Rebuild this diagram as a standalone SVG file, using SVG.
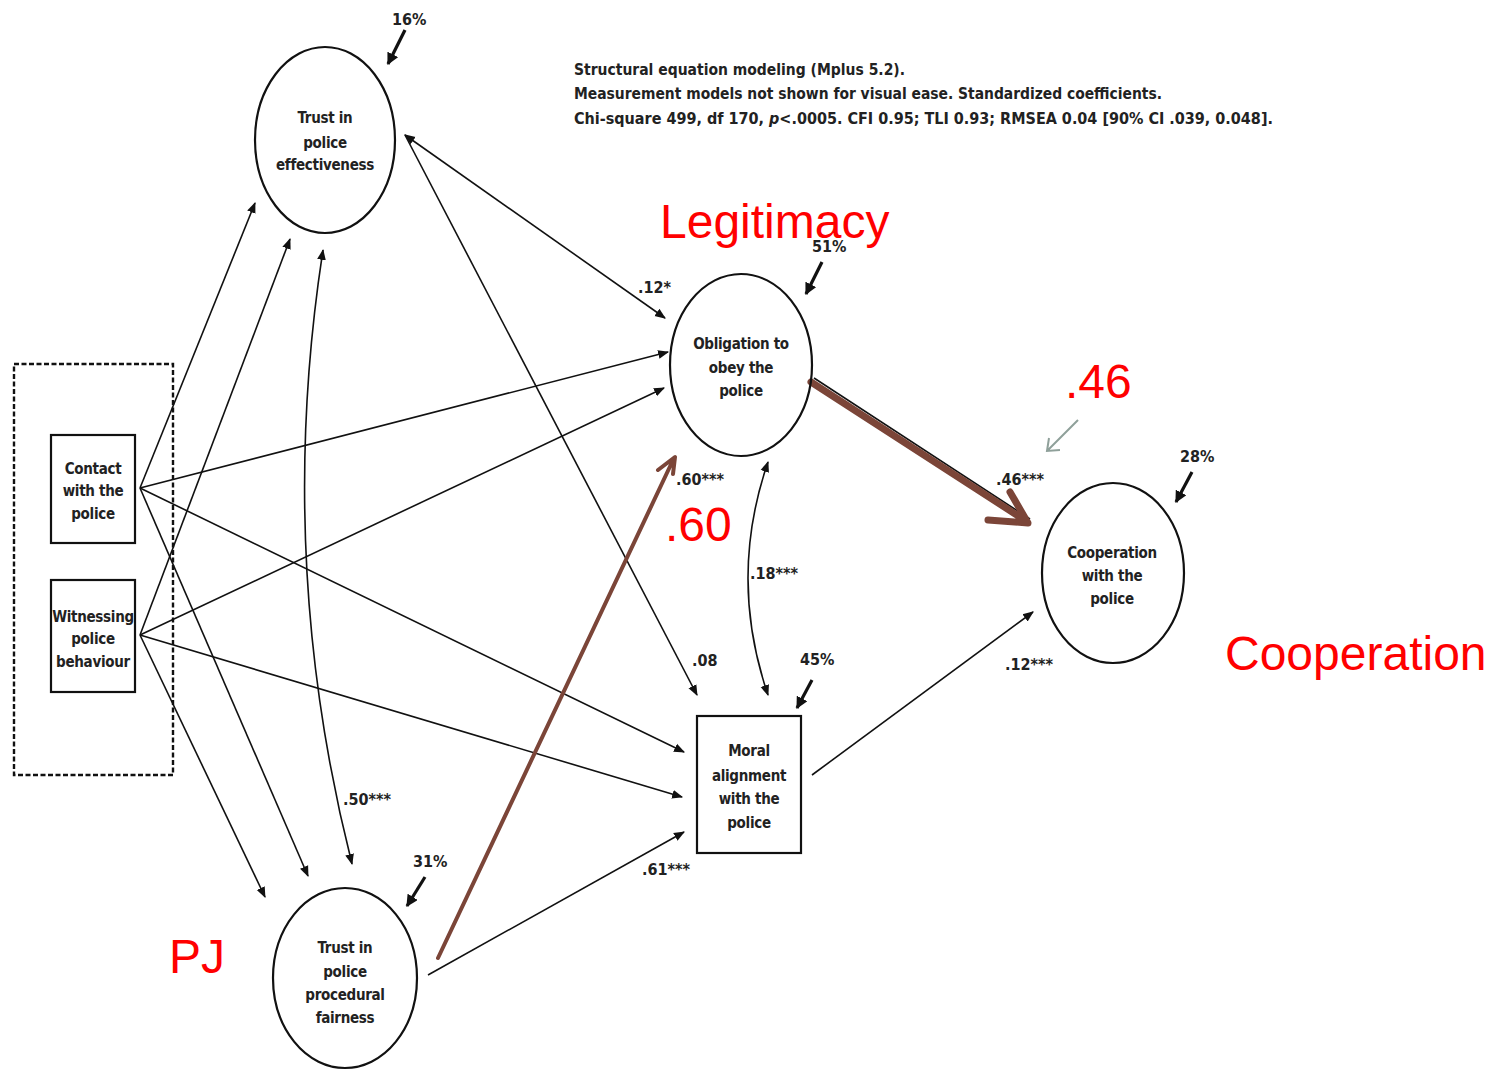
<svg xmlns="http://www.w3.org/2000/svg" width="1497" height="1070" viewBox="0 0 1497 1070">
<style>
.nd{fill:none;stroke:#111;stroke-width:2.2}
.lbl{font-family:'DejaVu Sans Condensed','DejaVu Sans',sans-serif;font-size:15px;font-weight:bold;fill:#222;text-anchor:middle;letter-spacing:-0.3px}
.coef{font-family:'DejaVu Sans Condensed','DejaVu Sans',sans-serif;font-size:16px;font-weight:bold;fill:#222}
.note{font-family:'DejaVu Sans Condensed','DejaVu Sans',sans-serif;font-size:16px;font-weight:bold;fill:#222}
.red{font-family:'Liberation Sans',Arial,sans-serif;font-size:48px;fill:#ff0000}
.ln{fill:none;stroke:#111;stroke-width:1.6}
.res{fill:none;stroke:#111;stroke-width:3.2}
.brown{fill:none;stroke:#7b4538;stroke-linecap:round;stroke-linejoin:round}
</style>
<defs>
<marker id="ah" viewBox="0 0 10 10" refX="9" refY="5" markerWidth="11" markerHeight="11" markerUnits="userSpaceOnUse" orient="auto-start-reverse">
<path d="M0,1 L10,5 L0,9 z" fill="#111"/>
</marker>
<marker id="rh" viewBox="0 0 10 10" refX="9" refY="5" markerWidth="12" markerHeight="12" markerUnits="userSpaceOnUse" orient="auto">
<path d="M0,0 L10,5 L0,10 z" fill="#111"/>
</marker>
</defs>
<rect width="1497" height="1070" fill="#ffffff"/>

<g id="note">
<text class="note" x="574" y="75" textLength="331" lengthAdjust="spacingAndGlyphs">Structural equation modeling (Mplus 5.2).</text>
<text class="note" x="574" y="99" textLength="588" lengthAdjust="spacingAndGlyphs">Measurement models not shown for visual ease. Standardized coefficients.</text>
<text class="note" x="574" y="124" font-size="15.4">Chi-square 499, df 170, <tspan font-style="italic">p</tspan>&lt;.0005. CFI 0.95; TLI 0.93; RMSEA 0.04 [90% CI .039, 0.048].</text>
</g>

<g id="connectors">
<path class="ln" d="M140,488 L255,203" marker-end="url(#ah)"/>
<path class="ln" d="M140,635 L290,239" marker-end="url(#ah)"/>
<path class="ln" d="M140,488 L668,352" marker-end="url(#ah)"/>
<path class="ln" d="M140,635 L664,388" marker-end="url(#ah)"/>
<path class="ln" d="M140,488 L684,752" marker-end="url(#ah)"/>
<path class="ln" d="M140,635 L682,797" marker-end="url(#ah)"/>
<path class="ln" d="M140,488 L308,876" marker-end="url(#ah)"/>
<path class="ln" d="M140,635 L265,897" marker-end="url(#ah)"/>
<path class="ln" d="M405,135 L665,318" marker-start="url(#ah)" marker-end="url(#ah)"/>
<path class="ln" d="M405,135 L697,695" marker-end="url(#ah)"/>
<path class="ln" d="M323,250 Q275,560 352,864" marker-start="url(#ah)" marker-end="url(#ah)"/>
<path class="ln" d="M768,462 Q728,578 768,695" marker-start="url(#ah)" marker-end="url(#ah)"/>
<path class="ln" d="M812,775 L1033,612" marker-end="url(#ah)"/>
<path class="ln" d="M428,975 L684,832" marker-end="url(#ah)"/>
<path class="ln" d="M814,378 L1030,519"/>
<path class="res" d="M405,30 L388,64" marker-end="url(#rh)"/>
<path class="res" d="M822,262 L806,294" marker-end="url(#rh)"/>
<path class="res" d="M812,680 L797,708" marker-end="url(#rh)"/>
<path class="res" d="M1192,472 L1176,502" marker-end="url(#rh)"/>
<path class="res" d="M425,877 L407,906" marker-end="url(#rh)"/>
<path class="brown" stroke-width="7" d="M811,382 L1026,521 M988,520 L1028,523 L1010,492"/>
<path class="brown" stroke-width="4" d="M438,958 L674,458 M658,470 L675,457 L673,474"/>
<path fill="none" stroke="#8fa09a" stroke-width="2" d="M1078,420 L1047,451 M1049,438 L1047,451 L1060,450"/>
</g>

<g id="trust-effectiveness">
<ellipse class="nd" cx="325" cy="140" rx="70" ry="93"/>
<text class="lbl" x="325" y="123">Trust in</text>
<text class="lbl" x="325" y="148">police</text>
<text class="lbl" x="325" y="170">effectiveness</text>
</g>
<g id="obligation">
<ellipse class="nd" cx="741" cy="365" rx="71" ry="91"/>
<text class="lbl" x="741" y="349">Obligation to</text>
<text class="lbl" x="741" y="373">obey the</text>
<text class="lbl" x="741" y="396">police</text>
</g>
<g id="cooperation">
<ellipse class="nd" cx="1113" cy="573" rx="71" ry="90"/>
<text class="lbl" x="1112" y="558">Cooperation</text>
<text class="lbl" x="1112" y="581">with the</text>
<text class="lbl" x="1112" y="604">police</text>
</g>
<g id="procedural">
<ellipse class="nd" cx="345" cy="978" rx="72" ry="90"/>
<text class="lbl" x="345" y="953">Trust in</text>
<text class="lbl" x="345" y="977">police</text>
<text class="lbl" x="345" y="1000">procedural</text>
<text class="lbl" x="345" y="1023">fairness</text>
</g>
<g id="moral">
<rect class="nd" x="697" y="716" width="104" height="137"/>
<text class="lbl" x="749" y="756">Moral</text>
<text class="lbl" x="749" y="781">alignment</text>
<text class="lbl" x="749" y="804">with the</text>
<text class="lbl" x="749" y="828">police</text>
</g>
<g id="exogenous">
<rect fill="none" stroke="#111" stroke-width="2.4" stroke-dasharray="5,2.5" x="14" y="364" width="159" height="411"/>
</g>
<g id="contact">
<rect class="nd" x="51" y="435" width="84" height="108"/>
<text class="lbl" x="93" y="474">Contact</text>
<text class="lbl" x="93" y="496">with the</text>
<text class="lbl" x="93" y="519">police</text>
</g>
<g id="witnessing">
<rect class="nd" x="51" y="580" width="84" height="112"/>
<text class="lbl" x="93" y="622">Witnessing</text>
<text class="lbl" x="93" y="644">police</text>
<text class="lbl" x="93" y="667">behaviour</text>
</g>

<g id="coefficients">
<text class="coef" x="392" y="25">16%</text>
<text class="coef" x="812" y="252">51%</text>
<text class="coef" x="638" y="293">.12*</text>
<text class="coef" x="676" y="485">.60***</text>
<text class="coef" x="750" y="579">.18***</text>
<text class="coef" x="692" y="666">.08</text>
<text class="coef" x="800" y="665">45%</text>
<text class="coef" x="996" y="485">.46***</text>
<text class="coef" x="1180" y="462">28%</text>
<text class="coef" x="1005" y="670">.12***</text>
<text class="coef" x="343" y="805">.50***</text>
<text class="coef" x="413" y="867">31%</text>
<text class="coef" x="642" y="875">.61***</text>
</g>

<g id="annotations">
<text class="red" x="660" y="238">Legitimacy</text>
<text class="red" x="1065" y="398">.46</text>
<text class="red" x="665" y="541">.60</text>
<text class="red" x="1225" y="670">Cooperation</text>
<text class="red" x="169" y="973">PJ</text>
</g>
</svg>
